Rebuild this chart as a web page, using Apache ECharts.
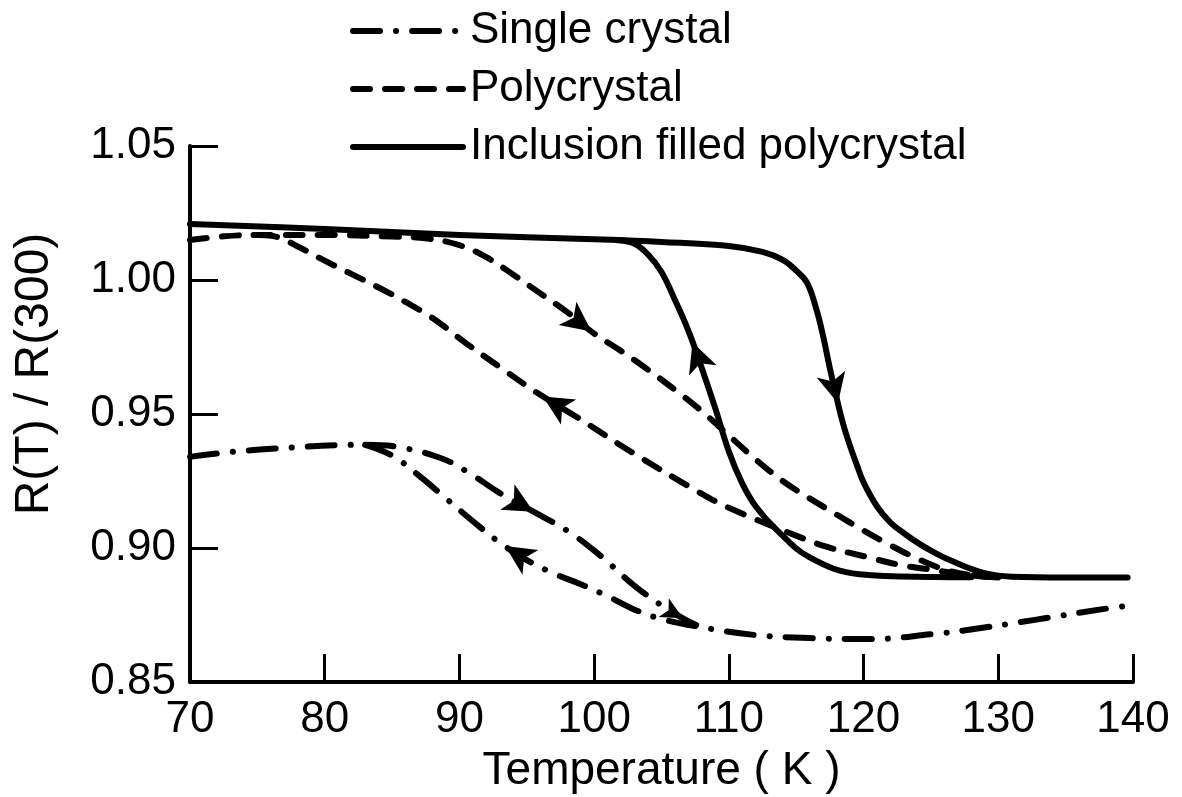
<!DOCTYPE html>
<html>
<head>
<meta charset="utf-8">
<script src="https://cdn.jsdelivr.net/npm/echarts@6/dist/echarts.min.js"></script>
<style>
  html, body { margin: 0; padding: 0; background: #ffffff; }
  #chart { width: 1182px; height: 797px; }
</style>
</head>
<body>
<div id="chart"></div>
<script>
// R(T)/R(300) versus temperature, cooling and warming branches for each sample type.
// Each branch is a list of [temperature (K), R(T)/R(300)] pairs.

const seriesNames = ['Single crystal', 'Polycrystal', 'Inclusion filled polycrystal'];

const xTicks = { min: 70, max: 140, step: 10 };
const yTicks = { min: 0.85, max: 1.05, step: 0.05 };

// Single crystal (dash-dot)
const singleCooling = [
  [70, 0.934], [73, 0.9358], [77, 0.9373], [81, 0.9384], [83, 0.9385],
  [85.4, 0.9377], [88.6, 0.9336], [90.6, 0.9284], [93, 0.9205], [95.7, 0.913],
  [98.2, 0.9058], [100.4, 0.8974], [103.4, 0.8843], [106.4, 0.8743], [107.9, 0.8705]
];
const singleWarming = [
  [83, 0.9385], [85, 0.9345], [87, 0.927], [89, 0.9185], [91, 0.910],
  [93, 0.902], [95, 0.8955], [97, 0.8905], [99, 0.8865], [101, 0.882],
  [103, 0.877], [105, 0.8735], [107.9, 0.8705], [112, 0.8675], [116, 0.8664],
  [120.5, 0.866], [125.2, 0.8679], [127.7, 0.8694], [132.6, 0.8731], [138.3, 0.8776],
  [140, 0.8786]
];

// Polycrystal (dashed)
const polyCooling = [
  [70, 1.0149], [72.5, 1.0163], [75.2, 1.0168], [80, 1.0168], [85, 1.0162],
  [87.6, 1.0155], [90, 1.013], [92, 1.0085], [94, 1.002], [96, 0.995],
  [98, 0.988], [100, 0.980], [102, 0.9735], [104, 0.9665], [106, 0.959],
  [108, 0.951], [110, 0.942], [112, 0.933], [114, 0.925], [116, 0.9185],
  [118, 0.9125], [120, 0.9065], [122, 0.901], [124, 0.896], [126, 0.892],
  [128, 0.8898], [130, 0.889]
];
const polyWarming = [
  [75.2, 1.0168], [76.5, 1.016], [78, 1.0125], [80, 1.0072], [82, 1.0022],
  [84, 0.9972], [86, 0.9918], [88, 0.9858], [90.6, 0.976], [93, 0.9675],
  [95.8, 0.9578], [98.7, 0.9489], [102.9, 0.9354], [107.9, 0.9205], [110, 0.915],
  [114.5, 0.9056], [117.3, 0.9004], [120.3, 0.8966], [122.7, 0.8937], [125.2, 0.8918],
  [128.3, 0.8896], [130.1, 0.889]
];

// Inclusion filled polycrystal (solid)
const inclCooling = [
  [70, 1.0209], [80, 1.019], [90, 1.0168], [100, 1.0152], [105, 1.0142],
  [110, 1.0127], [112.5, 1.0105], [114, 1.0075], [115, 1.0035], [115.8, 0.999],
  [116.5, 0.989], [117, 0.979], [117.5, 0.967], [118, 0.956], [118.5, 0.946],
  [119, 0.938], [119.5, 0.931], [120, 0.9245], [121, 0.9155], [122, 0.9095],
  [123, 0.9055], [124, 0.902], [125, 0.899], [126.4, 0.8955], [128.9, 0.8907],
  [131, 0.8893], [135, 0.889], [139.6, 0.889]
];
const inclWarming = [
  [101.8, 1.0148], [103, 1.0135], [104, 1.0095], [105, 1.003], [106, 0.9925],
  [107, 0.981], [108, 0.967], [109, 0.952], [110, 0.936], [111, 0.924],
  [112, 0.9155], [113.6, 0.9065], [116, 0.8965], [119.7, 0.8902], [125.2, 0.8892],
  [128, 0.8891]
];

// Direction arrows: branch, temperature where the arrowhead sits, sweep direction, size
const arrowMarks = [
  { branch: 'inclCooling', t: 118.1, dir: 1, size: [22, 30] },
  { branch: 'inclWarming', t: 107.3, dir: -1, size: [22, 30] },
  { branch: 'polyCooling', t: 99.8, dir: 1, size: [22, 30] },
  { branch: 'polyWarming', t: 96.2, dir: -1, size: [22, 30] },
  { branch: 'singleCooling', t: 95.5, dir: 1, size: [22, 30] },
  { branch: 'singleWarming', t: 93.4, dir: -1, size: [22, 30] },
  { branch: 'singleCooling', t: 106.6, dir: 1, size: [16, 22] }
];

const branches = { singleCooling, singleWarming, polyCooling, polyWarming, inclCooling, inclWarming };

const FONT = 'Liberation Sans, Arial, sans-serif';
const INK = '#000000';
const LINE_W = 6;

const styles = {
  'Single crystal': { type: [27, 16, 0.1, 16], cap: 'round' },
  'Polycrystal': { type: [17, 15], cap: 'round' },
  'Inclusion filled polycrystal': { type: 'solid', cap: 'round' }
};

function lineSeries(name, data) {
  return {
    name: name,
    type: 'line',
    data: data,
    symbol: 'none',
    smooth: 0.4,
    silent: true,
    lineStyle: Object.assign({ color: INK, width: LINE_W, join: 'round' }, styles[name]),
    itemStyle: { color: INK },
    z: 3
  };
}

// Linear interpolation along a branch at temperature t
function pointAt(branch, t) {
  const pts = branches[branch];
  for (let i = 0; i < pts.length - 1; i++) {
    const a = pts[i], b = pts[i + 1];
    if (t >= a[0] && t <= b[0]) {
      const f = (t - a[0]) / (b[0] - a[0]);
      return [t, a[1] + f * (b[1] - a[1])];
    }
  }
  return pts[pts.length - 1].slice();
}

const chart = echarts.init(document.getElementById('chart'), null, { renderer: 'canvas' });

const lines = [
  lineSeries('Single crystal', singleCooling),
  lineSeries('Single crystal', singleWarming),
  lineSeries('Polycrystal', polyCooling),
  lineSeries('Polycrystal', polyWarming),
  lineSeries('Inclusion filled polycrystal', inclCooling),
  lineSeries('Inclusion filled polycrystal', inclWarming)
];

chart.setOption({
  animation: false,
  backgroundColor: '#ffffff',
  grid: { left: 190, right: 49, top: 146, bottom: 115, containLabel: false, outerBoundsMode: 'none' },
  legend: {
    data: seriesNames,
    orient: 'vertical',
    left: 345,
    top: 1,
    itemWidth: 110,
    itemHeight: 20,
    itemGap: 8,
    selectedMode: false,
    lineStyle: { width: LINE_W },
    itemStyle: { opacity: 0 },
    textStyle: { fontSize: 44, fontFamily: FONT, color: INK, lineHeight: 50, padding: [0, 0, 0, 2] }
  },
  xAxis: {
    type: 'value',
    min: xTicks.min,
    max: xTicks.max,
    interval: xTicks.step,
    name: 'Temperature ( K )',
    nameLocation: 'middle',
    nameGap: 66,
    nameTextStyle: { fontSize: 46, fontFamily: FONT, color: INK },
    axisLine: { show: true, lineStyle: { color: INK, width: 4 } },
    axisTick: { show: true, inside: true, length: 28, lineStyle: { color: INK, width: 3 } },
    axisLabel: { fontSize: 44, fontFamily: FONT, color: INK, margin: 16 },
    splitLine: { show: false }
  },
  yAxis: {
    type: 'value',
    min: yTicks.min,
    max: yTicks.max,
    interval: yTicks.step,
    name: 'R(T) / R(300)',
    nameLocation: 'middle',
    nameGap: 131,
    nameTextStyle: { fontSize: 48, fontFamily: FONT, color: INK, padding: [0, 0, 0, 80] },
    axisLine: { show: true, lineStyle: { color: INK, width: 4 } },
    axisTick: { show: true, inside: true, length: 28, lineStyle: { color: INK, width: 3 } },
    axisLabel: { fontSize: 44, fontFamily: FONT, color: INK, margin: 14,
                 formatter: v => v.toFixed(2) },
    splitLine: { show: false }
  },
  series: lines
});

// Arrowheads follow the local direction of each branch in screen space
const arrowData = arrowMarks.map(m => {
  const p = pointAt(m.branch, m.t);
  const a = chart.convertToPixel({ xAxisIndex: 0, yAxisIndex: 0 }, pointAt(m.branch, m.t - 0.4 * m.dir));
  const b = chart.convertToPixel({ xAxisIndex: 0, yAxisIndex: 0 }, pointAt(m.branch, m.t + 0.4 * m.dir));
  const rot = Math.atan2(-(b[0] - a[0]), -(b[1] - a[1])) * 180 / Math.PI;
  return { value: p, symbolRotate: rot, symbolSize: m.size };
});

chart.setOption({
  series: lines.concat([{
    name: 'direction',
    type: 'scatter',
    data: arrowData,
    symbol: 'arrow',
    silent: true,
    itemStyle: { color: INK, opacity: 1 },
    z: 5
  }])
});
</script>
</body>
</html>
